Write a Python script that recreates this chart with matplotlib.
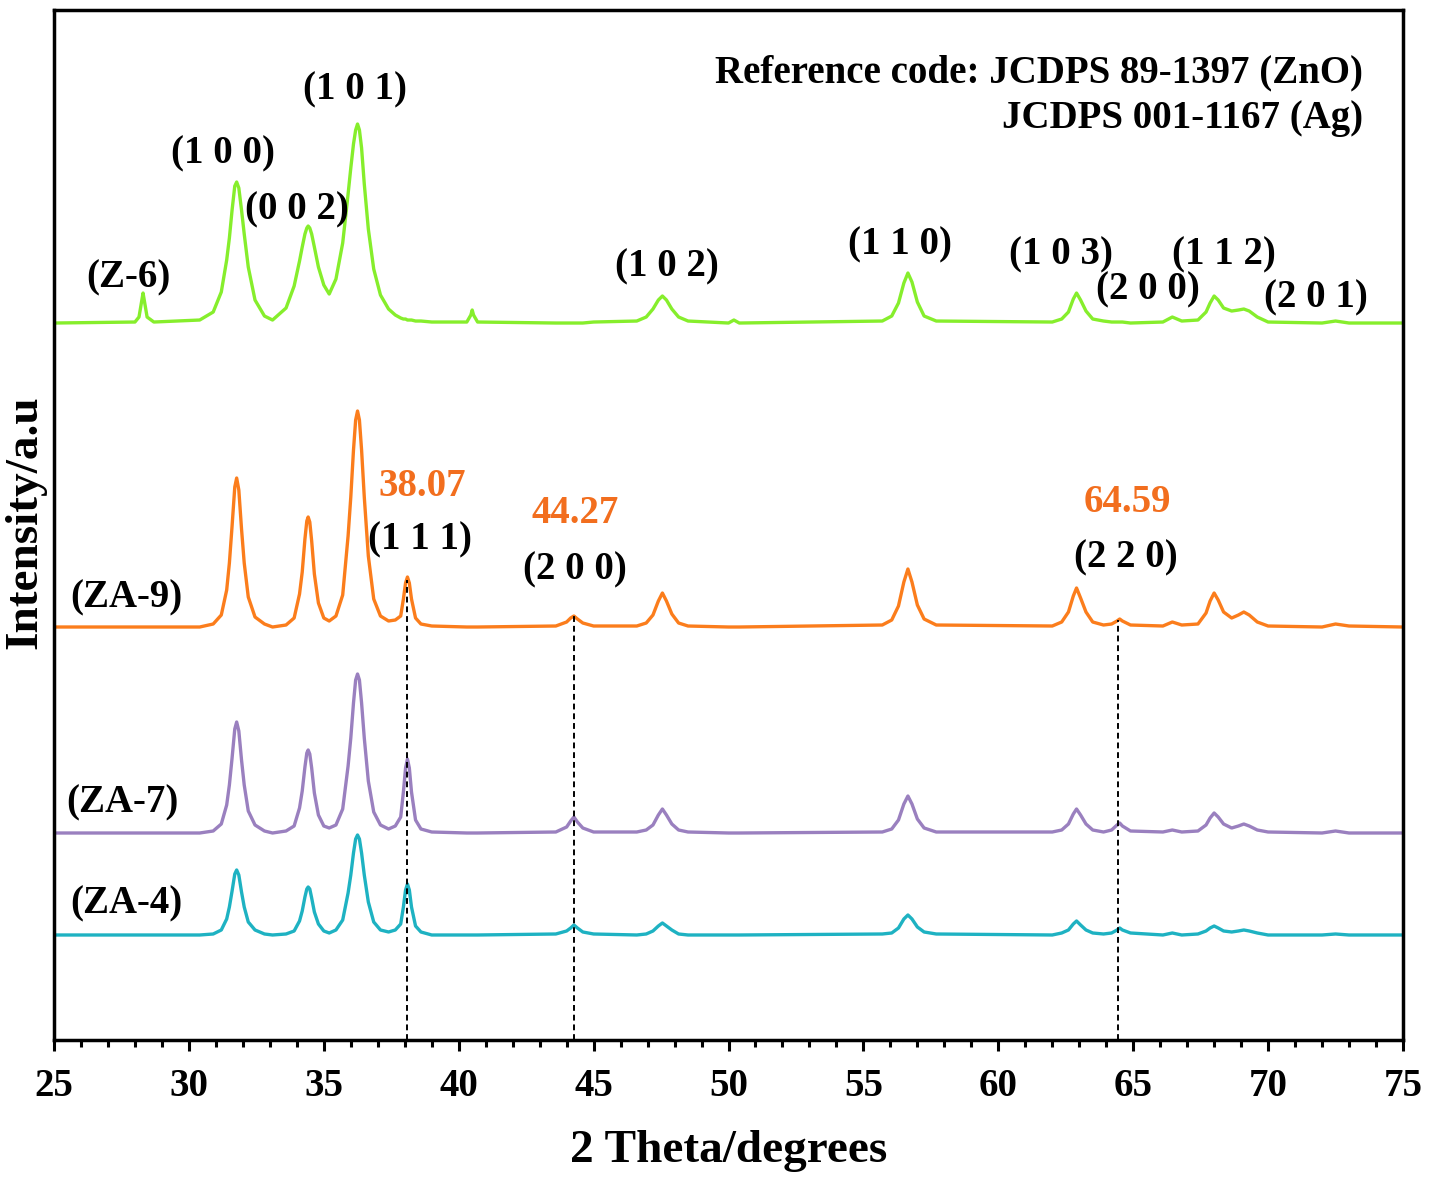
import numpy as np
import matplotlib
matplotlib.use("Agg")
import matplotlib.pyplot as plt
from matplotlib.ticker import MultipleLocator

plt.rcParams['font.family'] = ['Liberation Serif', 'DejaVu Serif']
plt.rcParams['font.weight'] = 'bold'

# 2 theta sampling points (degrees), shared by all patterns
two_theta = [25.0,
             28.0, 28.15, 28.25, 28.3, 28.35, 28.45, 28.7,
             30.4, 30.9, 31.2, 31.4, 31.5, 31.6, 31.7, 31.77, 31.85, 31.95, 32.05, 32.2, 32.45, 32.8, 33.1,
             33.6, 33.9, 34.1, 34.2, 34.3, 34.37, 34.42, 34.48, 34.55, 34.65, 34.8, 35.0, 35.2,
             35.45, 35.7, 35.9, 36.0, 36.1, 36.18, 36.25, 36.32, 36.4, 36.5, 36.65, 36.85, 37.1, 37.4,
             37.65, 37.85, 37.95, 38.03, 38.1, 38.17, 38.25, 38.4, 38.6, 39.0,
             40.3, 40.45, 40.5, 40.55, 40.7,
             43.6, 44.0, 44.15, 44.27, 44.4, 44.6, 45.0,
             46.6, 46.95, 47.2, 47.4, 47.55, 47.7, 47.9, 48.15, 48.5,
             50.0, 50.2, 50.4,
             55.7, 56.05, 56.3, 56.5, 56.65, 56.8, 57.0, 57.25, 57.7,
             62.0, 62.35, 62.6, 62.78, 62.9, 63.05, 63.25, 63.5, 63.9,
             64.2, 64.4, 64.5, 64.6, 64.9,
             66.1, 66.45, 66.8,
             67.4, 67.7, 67.85, 68.0, 68.15, 68.35, 68.65, 68.9, 69.1, 69.3, 69.6, 70.0,
             72.0, 72.5, 73.0, 75.0]

# intensities above each pattern's own baseline (a.u.)
z6 = [0,
      1, 6, 22, 30, 22, 6, 1,
      3, 11, 31, 63, 85, 113, 137, 141, 135, 113, 89, 56, 23, 7, 3,
      15, 37, 62, 76, 89, 95, 97, 95, 89, 76, 56, 38, 29,
      44, 80, 129, 155, 179, 193, 199, 193, 175, 139, 94, 54, 28, 14,
      8, 5, 4, 4, 3, 3, 3, 2, 2, 1,
      1, 8, 13, 8, 1,
      0, 0, 0, 0, 0, 0, 1,
      2, 6, 14, 23, 27, 23, 14, 6, 2,
      0, 3, 0,
      2, 7, 20, 40, 50, 41, 21, 7, 2,
      1, 4, 11, 24, 30, 23, 12, 4, 2,
      1, 1, 1, 1, 0,
      1, 6, 2,
      3, 11, 20, 27, 23, 15, 12, 13, 14, 12, 6, 1,
      0, 2, 0, 0]

za9 = [0,
       0, 0, 0, 0, 0, 0, 0,
       0, 3, 12, 37, 64, 101, 140, 149, 137, 98, 64, 30, 10, 3, 0,
       2, 9, 33, 55, 88, 106, 110, 105, 86, 53, 24, 9, 6,
       11, 32, 91, 130, 177, 207, 216, 207, 177, 130, 71, 28, 11, 6,
       7, 11, 28, 44, 50, 44, 28, 9, 3, 1,
       0, 0, 0, 0, 0,
       1, 5, 9, 11, 8, 4, 1,
       1, 4, 12, 26, 34, 26, 13, 4, 1,
       0, 0, 0,
       2, 7, 21, 45, 58, 45, 22, 8, 2,
       1, 5, 15, 31, 39, 29, 15, 5, 2,
       3, 6, 8, 6, 2,
       1, 5, 2,
       3, 14, 26, 34, 27, 15, 9, 12, 15, 12, 5, 1,
       0, 3, 1, 0]

za7 = [0,
       0, 0, 0, 0, 0, 0, 0,
       0, 2, 9, 28, 48, 75, 104, 111, 102, 73, 48, 22, 8, 2, 0,
       2, 7, 25, 42, 66, 80, 83, 79, 65, 40, 18, 7, 5,
       8, 24, 67, 95, 130, 153, 159, 153, 130, 95, 52, 21, 8, 4,
       7, 16, 41, 65, 74, 65, 41, 13, 4, 1,
       0, 0, 0, 0, 0,
       1, 6, 12, 16, 11, 5, 1,
       1, 3, 8, 18, 24, 18, 9, 3, 1,
       0, 0, 0,
       1, 4, 13, 29, 37, 29, 14, 5, 1,
       1, 3, 9, 19, 24, 18, 9, 3, 1,
       3, 8, 10, 7, 2,
       1, 3, 1,
       2, 8, 15, 20, 16, 9, 5, 7, 9, 7, 3, 1,
       0, 2, 0, 0]

za4 = [0,
       0, 0, 0, 0, 0, 0, 0,
       0, 1, 5, 16, 28, 44, 61, 65, 60, 43, 28, 13, 5, 1, 0,
       1, 4, 14, 24, 38, 46, 48, 46, 37, 23, 11, 4, 2,
       5, 15, 42, 60, 82, 96, 100, 96, 82, 60, 33, 13, 5, 3,
       5, 11, 28, 45, 51, 45, 28, 9, 3, 0,
       0, 0, 0, 0, 0,
       1, 4, 7, 10, 7, 3, 1,
       0, 1, 4, 9, 12, 9, 5, 1, 0,
       0, 0, 0,
       1, 2, 7, 16, 20, 16, 8, 3, 1,
       0, 2, 5, 11, 14, 10, 5, 2, 1,
       2, 5, 7, 5, 2,
       0, 2, 0,
       1, 4, 7, 9, 7, 4, 3, 4, 5, 4, 2, 0,
       0, 1, 0, 0]

samples = ['(Z-6)', '(ZA-9)', '(ZA-7)', '(ZA-4)']
patterns = [z6, za9, za7, za4]
offsets = [717, 413, 207, 105]
colors = ['#86ee2c', '#fb7d1c', '#9a80bf', '#1eb2c2']

# ZnO hkl labels
zno_labels = ['(1 0 0)', '(0 0 2)', '(1 0 1)', '(1 0 2)', '(1 1 0)',
              '(1 0 3)', '(2 0 0)', '(1 1 2)', '(2 0 1)']
zno_pos = [(31.26, 886), (34.0, 830), (36.16, 950), (47.72, 773), (56.36, 795),
           (62.32, 785), (65.55, 750), (68.37, 785), (71.78, 742)]

# Ag peaks
ag_peaks = [38.07, 44.27, 64.45]
ag_values = ['38.07', '44.27', '64.59']
ag_hkl = ['(1 1 1)', '(2 0 0)', '(2 2 0)']

fig = plt.figure(figsize=(14.29, 11.81), dpi=100)
ax = fig.add_axes([0.0378, 0.1194, 0.944, 0.8721])

x = np.array(two_theta)
for name, ys, off, col in zip(samples, patterns, offsets, colors):
    assert len(ys) == len(two_theta)
    ax.plot(x, np.array(ys) + off, color=col, lw=2.4, solid_joinstyle='round')

# dashed guides for Ag peaks, from ZA-9 peak top down
za9_arr = np.array(za9) + offsets[1]
for p in ag_peaks:
    top = np.interp(p, x, za9_arr)
    ax.plot([p, p], [0, top], color='black', lw=1.4, ls=(0, (3, 2)), zorder=5)

fs = 28
for lab, (px, py) in zip(zno_labels, zno_pos):
    ax.text(px, py, lab, fontsize=fs, ha='center', va='center')

ag_val_pos = [(38.64, 554), (44.31, 527), (64.77, 538)]
ag_hkl_pos = [(38.57, 500), (44.31, 470), (64.73, 482)]
for v, h, vp, hp in zip(ag_values, ag_hkl, ag_val_pos, ag_hkl_pos):
    ax.text(vp[0], vp[1], v, fontsize=fs, ha='center', va='center', color='#f26e1e')
    ax.text(hp[0], hp[1], h, fontsize=fs, ha='center', va='center')

sample_pos = [(27.74, 762), (27.67, 442), (27.52, 237), (27.67, 136)]
for s, (px, py) in zip(samples, sample_pos):
    ax.text(px, py, s, fontsize=fs, ha='center', va='center')

ax.text(73.52, 967, 'Reference code: JCDPS 89-1397 (ZnO)', fontsize=28, ha='right', va='center')
ax.text(73.52, 922, 'JCDPS 001-1167 (Ag)', fontsize=28, ha='right', va='center')

ax.set_xlim(25, 75)
ax.set_ylim(0, 1030)
ax.xaxis.set_major_locator(MultipleLocator(5))
ax.xaxis.set_minor_locator(MultipleLocator(1))
ax.tick_params(axis='x', which='major', direction='out', length=8, width=2.2,
               labelsize=28, pad=12)
ax.tick_params(axis='x', which='minor', direction='out', length=5, width=2.2)
ax.set_yticks([])
for sp in ax.spines.values():
    sp.set_linewidth(2.5)

ax.set_xlabel('2 Theta/degrees', fontsize=34, fontweight='bold', labelpad=18)
fig.text(25 / 1429, 1 - 522 / 1181, 'Intensity/a.u', fontsize=34, fontweight='bold',
         rotation=90, ha='center', va='center')

fig.savefig('out.png', dpi=100)
